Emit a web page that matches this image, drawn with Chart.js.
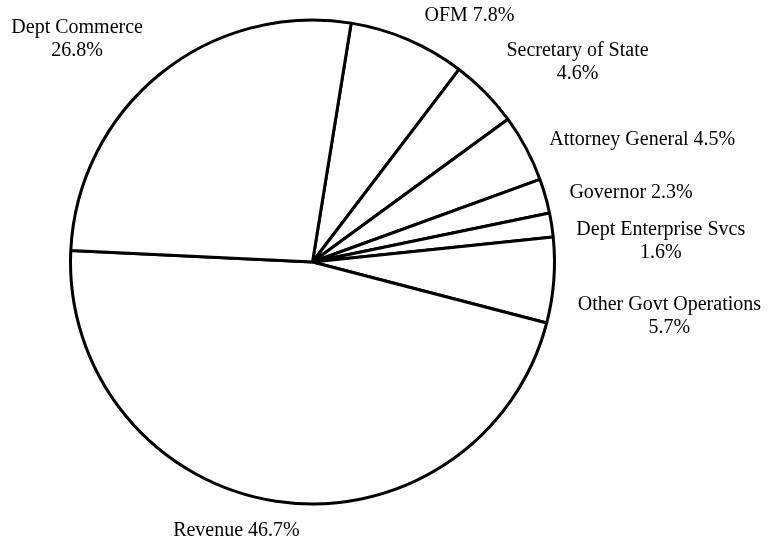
<!DOCTYPE html>
<html>
<head>
<meta charset="utf-8">
<script src="https://cdn.jsdelivr.net/npm/chart.js@4/dist/chart.umd.min.js"></script>
<style>
  html, body { margin: 0; padding: 0; background: #fff; }
  #wrap { width: 782px; height: 541px; }
</style>
</head>
<body>
<div id="wrap"><canvas id="pie_chart" width="782" height="541"></canvas></div>
<script>
// slices, clockwise from the top
let categories = ["OFM", "Secretary of State", "Attorney General", "Governor",
  "Dept Enterprise Svcs", "Other Govt Operations", "Revenue", "Dept Commerce"]
let shares = [7.8, 4.6, 4.5, 2.3, 1.6, 5.7, 46.7, 26.8]
// how each label is broken into lines
let labelLines = [
  ["OFM 7.8%"],
  ["Secretary of State", "4.6%"],
  ["Attorney General 4.5%"],
  ["Governor 2.3%"],
  ["Dept Enterprise Svcs", "1.6%"],
  ["Other Govt Operations", "5.7%"],
  ["Revenue 46.7%"],
  ["Dept Commerce", "26.8%"]
]

// small hand nudges so labels sit where the original put them
let labelNudge = [[7, -2], [4, -14], [2, 3], [1, 3], [1, 20], [0, 34], [-36, 6], [-2, -16]]
let labelFont = "20px 'Liberation Serif', 'Times New Roman', serif"
let lineHeight = 23

let outsideLabels = {
  id: "outsideLabels",
  afterDatasetsDraw(chart) {
    let ctx = chart.ctx
    let arcs = chart.getDatasetMeta(0).data
    ctx.save()
    ctx.font = labelFont
    ctx.fillStyle = "#000"
    ctx.textBaseline = "middle"
    ctx.textAlign = "center"
    for (let i = 0; i < arcs.length; i++) {
      let arc = arcs[i]
      let mid = (arc.startAngle + arc.endAngle) / 2
      let r = arc.outerRadius + 24
      let ax = arc.x + Math.cos(mid) * r + labelNudge[i][0]
      let ay = arc.y + Math.sin(mid) * r + labelNudge[i][1]
      let lines = labelLines[i]
      let w = 0
      for (let l of lines) w = Math.max(w, ctx.measureText(l).width)
      let cx = ax
      if (Math.cos(mid) > 0.3) cx = ax + w / 2
      else if (Math.cos(mid) < -0.3) cx = ax - w / 2
      let top = ay - (lines.length - 1) * lineHeight / 2
      for (let k = 0; k < lines.length; k++) {
        ctx.fillText(lines[k], cx, top + k * lineHeight)
      }
    }
    ctx.restore()
  }
}

new Chart(document.getElementById("pie_chart"), {
  type: "pie",
  data: {
    labels: categories,
    datasets: [{
      data: shares,
      backgroundColor: "#ffffff",
      borderColor: "#000000",
      borderWidth: 3,
      hoverOffset: 0
    }]
  },
  options: {
    responsive: false,
    animation: false,
    rotation: 9.2,
    radius: 242,
    layout: { padding: { left: 71, right: 228, top: 20, bottom: 37 } },
    plugins: {
      legend: { display: false },
      tooltip: { enabled: false }
    }
  },
  plugins: [outsideLabels]
})
</script>
</body>
</html>
